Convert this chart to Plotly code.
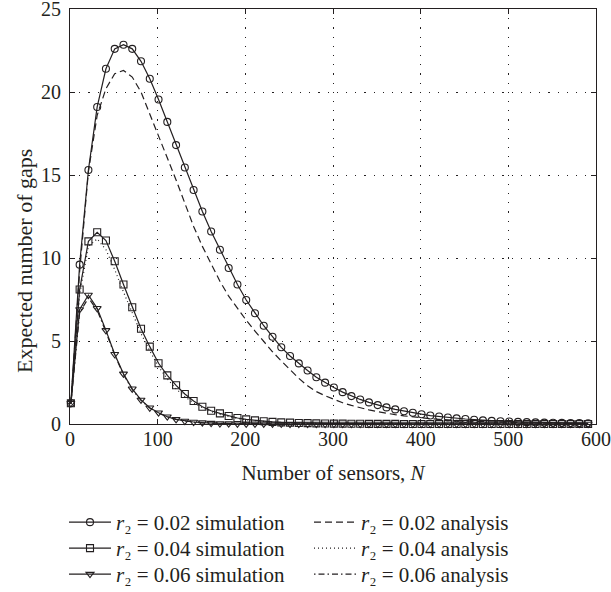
import plotly.graph_objects as go

N = [1, 11, 21, 31, 41, 51, 61, 71, 81, 91,
     101, 111, 121, 131, 141, 151, 161, 171, 181, 191,
     201, 211, 221, 231, 241, 251, 261, 271, 281, 291,
     301, 311, 321, 331, 341, 351, 361, 371, 381, 391,
     401, 411, 421, 431, 441, 451, 461, 471, 481, 491,
     501, 511, 521, 531, 541, 551, 561, 571, 581, 591]

sim_002 = [1.25, 9.6, 15.3, 19.1, 21.4, 22.6, 22.85, 22.6, 21.85, 20.8,
           19.55, 18.2, 16.8, 15.45, 14.1, 12.8, 11.6, 10.5, 9.4, 8.4,
           7.47, 6.67, 5.92, 5.26, 4.62, 4.1, 3.65, 3.22, 2.82, 2.49,
           2.2, 1.92, 1.68, 1.48, 1.3, 1.14, 1.0, 0.88, 0.77, 0.68,
           0.59, 0.51, 0.45, 0.39, 0.34, 0.3, 0.26, 0.22, 0.19, 0.17,
           0.15, 0.13, 0.11, 0.1, 0.085, 0.075, 0.065, 0.055, 0.05, 0.045]

ana_002 = [1.2, 9.2, 15.2, 18.6, 20.2, 21.1, 21.3, 20.9, 20.0, 18.7,
           17.3, 16.0, 14.7, 13.3, 11.9, 10.7, 9.6, 8.6, 7.7, 6.95,
           6.25, 5.6, 4.95, 4.35, 3.8, 3.25, 2.75, 2.3, 1.95, 1.7,
           1.48, 1.28, 1.12, 0.97, 0.85, 0.74, 0.64, 0.56, 0.49, 0.42,
           0.37, 0.32, 0.28, 0.24, 0.21, 0.18, 0.16, 0.14, 0.12, 0.11,
           0.09, 0.08, 0.07, 0.06, 0.055, 0.048, 0.042, 0.036, 0.032, 0.028]

sim_004 = [1.25, 8.1, 11.0, 11.55, 11.05, 9.8, 8.4, 7.03, 5.74, 4.66,
           3.66, 2.93, 2.33, 1.81, 1.39, 1.04, 0.8, 0.64, 0.48, 0.36,
           0.28, 0.22, 0.17, 0.13, 0.1, 0.08, 0.06, 0.05, 0.04, 0.03,
           0.025, 0.02, 0.016, 0.013, 0.01, 0.008, 0.006, 0.005, 0.004, 0.003,
           0.003, 0.002, 0.002, 0.001, 0.001, 0.001, 0.001, 0.0, 0.0, 0.0,
           0.0, 0.0, 0.0, 0.0, 0.0, 0.0, 0.0, 0.0, 0.0, 0.0]

ana_004 = [1.2, 7.8, 10.7, 11.15, 10.5, 9.3, 7.95, 6.65, 5.45, 4.4,
           3.45, 2.72, 2.12, 1.65, 1.27, 0.98, 0.75, 0.57, 0.44, 0.33,
           0.25, 0.19, 0.15, 0.11, 0.08, 0.06, 0.05, 0.04, 0.03, 0.02,
           0.015, 0.012, 0.009, 0.007, 0.005, 0.004, 0.003, 0.002, 0.002, 0.001,
           0.0, 0.0, 0.0, 0.0, 0.0, 0.0, 0.0, 0.0, 0.0, 0.0,
           0.0, 0.0, 0.0, 0.0, 0.0, 0.0, 0.0, 0.0, 0.0, 0.0]

sim_006 = [1.25, 6.9, 7.77, 6.97, 5.64, 4.2, 3.02, 2.12, 1.45, 0.98,
           0.68, 0.44, 0.28, 0.18, 0.12, 0.08, 0.05, 0.03, 0.02, 0.015,
           0.01, 0.007, 0.005, 0.003, 0.002, 0.001, 0.001, 0.0, 0.0, 0.0,
           0.0, 0.0, 0.0, 0.0, 0.0, 0.0, 0.0, 0.0, 0.0, 0.0,
           0.0, 0.0, 0.0, 0.0, 0.0, 0.0, 0.0, 0.0, 0.0, 0.0,
           0.0, 0.0, 0.0, 0.0, 0.0, 0.0, 0.0, 0.0, 0.0, 0.0]

ana_006 = [1.2, 6.7, 7.6, 6.85, 5.55, 4.15, 2.98, 2.08, 1.42, 0.96,
           0.66, 0.43, 0.28, 0.18, 0.11, 0.07, 0.05, 0.03, 0.02, 0.013,
           0.008, 0.005, 0.003, 0.002, 0.001, 0.001, 0.0, 0.0, 0.0, 0.0,
           0.0, 0.0, 0.0, 0.0, 0.0, 0.0, 0.0, 0.0, 0.0, 0.0,
           0.0, 0.0, 0.0, 0.0, 0.0, 0.0, 0.0, 0.0, 0.0, 0.0,
           0.0, 0.0, 0.0, 0.0, 0.0, 0.0, 0.0, 0.0, 0.0, 0.0]

r_labels = ["0.02", "0.04", "0.06"]
sims = [sim_002, sim_004, sim_006]
anas = [ana_002, ana_004, ana_006]
symbols = ["circle-open", "square-open", "triangle-down-open"]
dashes = ["7px,4px", "1px,3px", "1.5px,3px,6px,3px"]
legend_ids = ["legend", "legend2", "legend3"]
legend_y = [-0.188, -0.2506, -0.3133]
y_title = "Expected number of gaps"
x_title = "Number of sensors, <i>N</i>"

INK = "#231f20"
FONT = "Liberation Serif"

fig = go.Figure()
for lab, s, a, sym, d, lg in zip(r_labels, sims, anas, symbols, dashes, legend_ids):
    fig.add_trace(go.Scatter(
        x=N, y=s, mode="lines+markers",
        name=f"<i>r</i>\u2082 = {lab} simulation",
        line=dict(color=INK, width=1.2),
        marker=dict(symbol=sym, size=7, color=INK, line=dict(width=1.1, color=INK)),
        cliponaxis=False, legend=lg,
    ))
    fig.add_trace(go.Scatter(
        x=N, y=a, mode="lines",
        name=f"<i>r</i>\u2082 = {lab} analysis",
        line=dict(color=INK, width=1.2, dash=d), legend=lg,
    ))

axis_common = dict(
    showline=True, linecolor=INK, linewidth=1, mirror="ticks",
    ticks="inside", ticklen=5, tickcolor=INK,
    showgrid=True, gridcolor=INK, griddash="1.2px,8px", gridwidth=1,
    zeroline=False, automargin=False, ticklabeloverflow="allow",
    tickfont=dict(family=FONT, size=20, color=INK),
)

legend_common = dict(orientation="h", x=-0.0114, xanchor="left", yanchor="top",
                     entrywidth=188, entrywidthmode="pixels", itemwidth=42,
                     font=dict(family=FONT, size=21, color=INK),
                     bgcolor="rgba(0,0,0,0)")

fig.update_layout(
    width=611, height=592,
    margin=dict(l=70, r=15, t=9, b=168, autoexpand=False),
    paper_bgcolor="white", plot_bgcolor="white",
    font=dict(family=FONT, size=20, color=INK),
    xaxis=dict(range=[0, 600], tickvals=[0, 100, 200, 300, 400, 500, 600],
               ticklabelstandoff=-3,
               title=dict(text=x_title, standoff=16,
                          font=dict(family=FONT, size=21, color=INK)),
               **axis_common),
    yaxis=dict(range=[0, 25], tickvals=[0, 5, 10, 15, 20, 25],
               ticklabelstandoff=4,
               **axis_common),
    legend=dict(y=legend_y[0], **legend_common),
    legend2=dict(y=legend_y[1], **legend_common),
    legend3=dict(y=legend_y[2], **legend_common),
    showlegend=True,
    annotations=[dict(text=y_title, textangle=-90, xref="paper", yref="paper",
                      x=-0.0856, y=0.393, xanchor="center", yanchor="middle",
                      showarrow=False,
                      font=dict(family=FONT, size=22, color=INK))],
)

fig.write_html("out.html")
